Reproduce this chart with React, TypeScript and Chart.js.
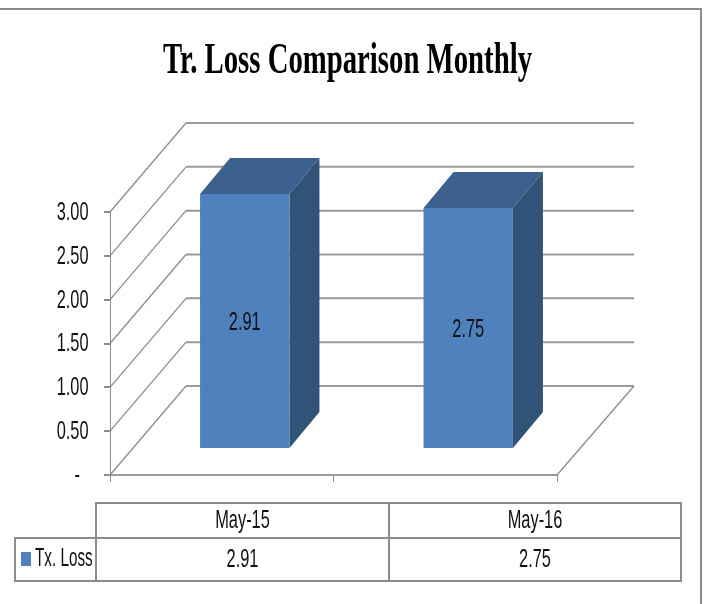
import React, { useEffect, useRef } from "react";
import { Chart, registerables } from "chart.js";

Chart.register(...registerables);

const chartTitle = "Tr. Loss Comparison Monthly";
const seriesName = "Tx. Loss";
const categories = ["May-15", "May-16"];
const txLoss = [2.91, 2.75];
const yTicks = { min: 0, max: 3, step: 0.5 };

const GRID = "#9a9a9a";
const LINE = "#8c8c8c";
const FRONT = "#4f81bd";
const TOP = "#3d618e";
const SIDE = "#325378";
const NARROW = '"Liberation Sans Narrow", "Liberation Sans", sans-serif';

const WALL = { dx: 76, dy: 89, right: 634 };
const SHIFT = { dx: 23, dy: 26 };
const DEPTH = { dx: 30, dy: 36 };
const TABLE = { left: 15, col0: 96, mid: 389, right: 681, top: 503, row: 538, bottom: 581 };

function squeezed(ctx: CanvasRenderingContext2D, text: string, x: number, y: number, align: CanvasTextAlign = "center", sx = 0.655, size = 25) {
  ctx.save();
  ctx.font = `${size}px ${NARROW}`;
  ctx.fillStyle = "#111";
  ctx.textAlign = align;
  ctx.textBaseline = "middle";
  ctx.translate(x, y);
  ctx.scale(sx, 1);
  ctx.fillText(text, 0, 0);
  ctx.restore();
}

function seg(ctx: CanvasRenderingContext2D, pts: number[][], color: string, w: number) {
  ctx.beginPath();
  pts.forEach((p, i) => (i ? ctx.lineTo(p[0], p[1]) : ctx.moveTo(p[0], p[1])));
  ctx.strokeStyle = color;
  ctx.lineWidth = w;
  ctx.stroke();
}

function poly(ctx: CanvasRenderingContext2D, pts: number[][], color: string) {
  ctx.beginPath();
  pts.forEach((p, i) => (i ? ctx.lineTo(p[0], p[1]) : ctx.moveTo(p[0], p[1])));
  ctx.closePath();
  ctx.fillStyle = color;
  ctx.fill();
}

const threeD = {
  id: "threeD",
  beforeDatasetsDraw(chart: any) {
    const { ctx, scales } = chart;
    const y = scales.y;
    const left = chart.chartArea.left;
    const x2 = left + WALL.dx;
    ctx.save();
    y.ticks.forEach((t: any) => {
      const py = y.getPixelForValue(t.value);
      seg(ctx, [[left, py], [x2, py - WALL.dy]], LINE, 1.3);
      seg(ctx, [[x2, py - WALL.dy], [WALL.right, py - WALL.dy]], GRID, 2);
    });
    const bx = chart.chartArea.right;
    const by = y.getPixelForValue(0);
    seg(ctx, [[bx, by], [WALL.right, by - WALL.dy]], LINE, 1.3);
    ctx.restore();
  },
  beforeDatasetDraw(chart: any, args: any) {
    const { ctx } = chart;
    args.meta.data.forEach((bar: any) => {
      const l = bar.x - bar.width / 2 + SHIFT.dx;
      const r = bar.x + bar.width / 2 + SHIFT.dx;
      const t = bar.y - SHIFT.dy;
      const b = bar.base - SHIFT.dy;
      poly(ctx, [[l, t], [r, t], [r + DEPTH.dx, t - DEPTH.dy], [l + DEPTH.dx, t - DEPTH.dy]], TOP);
      poly(ctx, [[r, t], [r + DEPTH.dx, t - DEPTH.dy], [r + DEPTH.dx, b - DEPTH.dy], [r, b]], SIDE);
    });
    ctx.save();
    ctx.translate(SHIFT.dx, -SHIFT.dy);
  },
  afterDatasetDraw(chart: any) {
    chart.ctx.restore();
  },
  afterDraw(chart: any) {
    const { ctx, scales } = chart;
    const y = scales.y;
    const meta = chart.getDatasetMeta(0);

    // value axis labels, taken from the scale
    y.ticks.forEach((t: any) => {
      const py = y.getPixelForValue(t.value) + 1;
      const dash = t.label === "-";
      squeezed(ctx, t.label, dash ? 80 : 88.5, py, "right");
    });

    // data labels on the front faces
    meta.data.forEach((bar: any, i: number) => {
      squeezed(ctx, txLoss[i].toFixed(2), bar.x + SHIFT.dx, (bar.y + bar.base) / 2 - SHIFT.dy + 2);
    });

    // title
    ctx.save();
    ctx.font = 'bold 44px "Liberation Serif", serif';
    ctx.fillStyle = "#000";
    ctx.textAlign = "center";
    ctx.textBaseline = "alphabetic";
    const w = ctx.measureText(chartTitle).width;
    ctx.translate(347.5, 72.5);
    ctx.scale(369 / w, 1);
    ctx.fillText(chartTitle, 0, 0);
    ctx.restore();

    // data table
    const T = TABLE;
    ctx.save();
    seg(ctx, [[T.col0, T.bottom], [T.col0, T.top], [T.right, T.top], [T.right, T.bottom], [T.left, T.bottom], [T.left, T.row], [T.right, T.row]], LINE, 2);
    seg(ctx, [[T.mid, T.top], [T.mid, T.bottom]], LINE, 2);
    ctx.restore();
    const cx = [(T.col0 + T.mid) / 2, (T.mid + T.right) / 2];
    categories.forEach((c, i) => {
      squeezed(ctx, c, cx[i], (T.top + T.row) / 2 + 1);
      squeezed(ctx, txLoss[i].toFixed(2), cx[i], (T.row + T.bottom) / 2 + 1);
    });
    poly(ctx, [[21, 552], [31, 552], [31, 566], [21, 566]], FRONT);
    squeezed(ctx, seriesName, 35, 559, "left", 0.61);

    // outer frame
    seg(ctx, [[0, 9], [701, 9], [701, 604]], LINE, 2);
  },
};

export default function App() {
  const ref = useRef<HTMLCanvasElement>(null);
  useEffect(() => {
    const chart = new Chart(ref.current as HTMLCanvasElement, {
      type: "bar",
      data: {
        labels: categories,
        datasets: [{ label: seriesName, data: txLoss, backgroundColor: FRONT, barPercentage: 0.4, categoryPercentage: 1, clip: false } as any],
      },
      options: {
        animation: false,
        responsive: false,
        layout: { padding: { left: 0, right: 148, top: 212, bottom: 0 } },
        plugins: { legend: { display: false }, title: { display: false }, tooltip: { enabled: false } },
        scales: {
          x: {
            afterFit: (s: any) => { s.height = 129; },
            ticks: { display: false },
            grid: { display: true, drawOnChartArea: false, drawTicks: true, tickLength: 7, color: LINE, lineWidth: 1 },
            border: { display: true, color: GRID, width: 2 },
          },
          y: {
            min: yTicks.min,
            max: yTicks.max,
            afterFit: (s: any) => { s.width = 110; },
            ticks: {
              display: false,
              stepSize: yTicks.step,
              callback: (v: any) => (Number(v) === 0 ? "-" : Number(v).toFixed(2)),
            },
            grid: { display: true, drawOnChartArea: false, drawTicks: true, tickLength: 6, color: LINE, lineWidth: 2 },
            border: { display: true, color: LINE, width: 1 },
          },
        },
      } as any,
      plugins: [threeD as any],
    });
    return () => chart.destroy();
  }, []);
  return (
    <div style={{ position: "absolute", left: 0, top: 0, width: 705, height: 604, background: "#fff", overflow: "hidden" }}>
      <canvas ref={ref} width={705} height={604} style={{ display: "block" }} />
    </div>
  );
}
